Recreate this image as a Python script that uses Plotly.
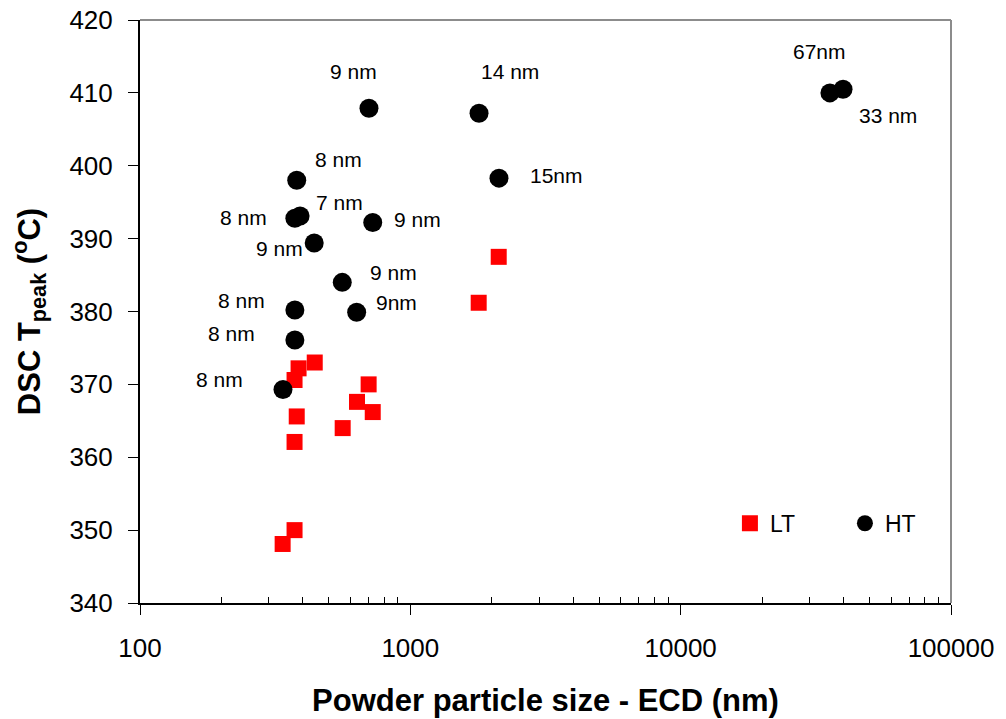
import math
import plotly.graph_objects as go

# ECD particle size (nm) and DSC peak temperature (degC)
ht_size = [703, 1795, 35650, 39870, 2128, 380, 374, 391, 726, 441, 560, 633, 374, 374, 338]
ht_tpeak = [407.9, 407.2, 410.0, 410.5, 398.3, 398.0, 392.8, 393.1, 392.2, 389.4, 384.0, 379.9, 380.2, 376.1, 369.3]
ht_labels = ["9 nm", "14 nm", "67nm", "33 nm", "15nm", "8 nm", "8 nm", "7 nm",
             "9 nm", "9 nm", "9 nm", "9nm", "8 nm", "8 nm", "8 nm"]

lt_size = [443, 386, 373, 380, 373, 701, 635, 726, 562, 373, 337, 2123, 1790]
lt_tpeak = [373.0, 372.2, 370.6, 365.6, 362.1, 370.0, 367.6, 366.2, 364.0, 350.0, 348.1, 387.5, 381.2]

x_tickvals = [100, 1000, 10000, 100000]
x_ticktext = ["100", "1000", "10000", "100000"]

# pixel offsets of each crystallite-size label from its point
label_offsets = [(-15, -37), (31, -42), (-10, -41), (45, 26), (58, -3), (42, -21),
                 (-51, -1), (39, -14), (45, -3), (-35, 5), (51, -10), (40, -10),
                 (-53, -10), (-63, -6), (-63, -10)]

FONT = "Liberation Sans, Arial, sans-serif"

fig = go.Figure()
fig.add_trace(go.Scatter(
    x=lt_size, y=lt_tpeak, mode="markers", name="LT",
    marker=dict(symbol="square", size=16, color="#ff0000", line=dict(width=0)),
))
fig.add_trace(go.Scatter(
    x=ht_size, y=ht_tpeak, mode="markers", name="HT",
    marker=dict(symbol="circle", size=19, color="#000000", line=dict(width=0)),
))

# annotations on a log axis take log10 of the data value
for xv, yv, txt, (dx, dy) in zip(ht_size, ht_tpeak, ht_labels, label_offsets):
    fig.add_annotation(x=math.log10(xv), y=yv, xref="x", yref="y", text=txt, showarrow=False,
                       xshift=dx, yshift=-dy, font=dict(size=21, color="#000", family=FONT))

minor_vals = [m * 10 ** e for e in (2, 3, 4) for m in range(2, 10)]

fig.update_xaxes(
    type="log", range=[2, 5], automargin=False,
    tickvals=x_tickvals, ticktext=x_ticktext,
    ticks="outside", ticklen=10, tickwidth=1.2, tickcolor="#000",
    minor=dict(tickvals=minor_vals, ticks="inside", ticklen=6, tickwidth=1.2, tickcolor="#000", showgrid=False),
    showline=True, linecolor="#000", linewidth=1.5,
    showgrid=False, zeroline=False,
    tickfont=dict(size=26, color="#000", family=FONT),
    ticklabelstandoff=11,
    title=dict(text="<b>Powder particle size - ECD (nm)</b>",
               font=dict(size=31, color="#000", family=FONT), standoff=27),
)
fig.update_yaxes(
    range=[340, 420], dtick=10, automargin=False,
    ticks="outside", ticklen=10, tickwidth=1.2, tickcolor="#000",
    showline=True, linecolor="#000", linewidth=2,
    showgrid=False, zeroline=False,
    tickfont=dict(size=26, color="#000", family=FONT),
    ticklabelstandoff=10,
    title=dict(text="<b>DSC T<sub>peak</sub> (<sup>o</sup>C)</b>",
               font=dict(size=31, color="#000", family=FONT), standoff=20),
)

# grey frame on the top and right edges of the plotting area
fig.add_shape(type="line", xref="paper", yref="paper", x0=0, x1=1, y0=1, y1=1,
              line=dict(color="#8c8c8c", width=2), layer="below")
fig.add_shape(type="line", xref="paper", yref="paper", x0=1, x1=1, y0=0, y1=1,
              line=dict(color="#8c8c8c", width=2), layer="below")

fig.update_layout(
    width=1006, height=719,
    margin=dict(l=140, r=55, t=20, b=116),
    plot_bgcolor="#ffffff", paper_bgcolor="#ffffff",
    font=dict(family=FONT, color="#000"),
    showlegend=True,
    legend=dict(orientation="h", x=0.7274, xanchor="left", y=0.1367, yanchor="middle",
                bgcolor="rgba(0,0,0,0)", font=dict(size=23, color="#000", family=FONT),
                entrywidth=70, entrywidthmode="pixels", itemsizing="trace"),
)

fig.write_html("out.html")
